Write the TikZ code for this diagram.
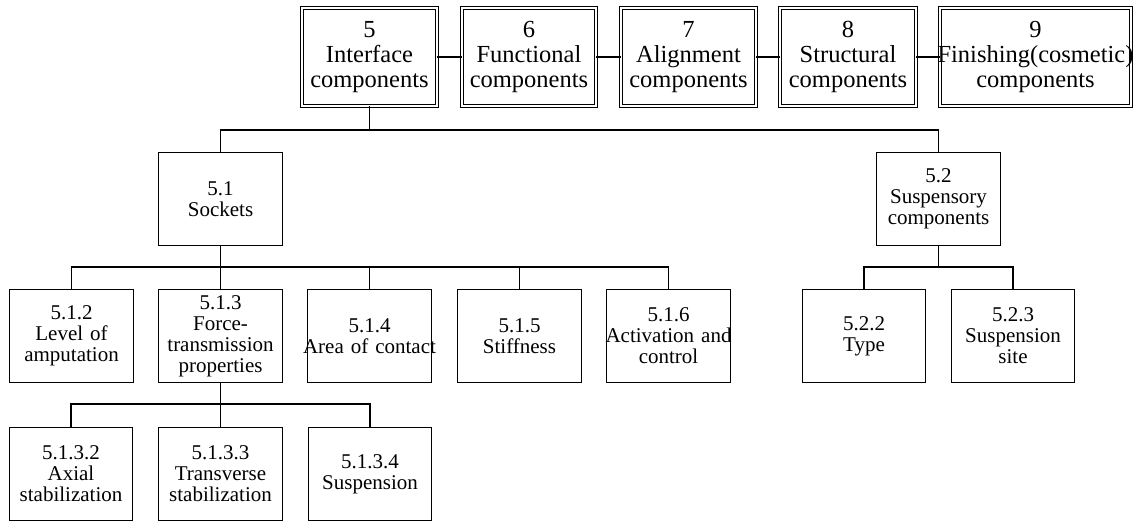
\documentclass[tikz,border=0pt]{standalone}
\usepackage{fontspec}
\setmainfont{Liberation Serif}
\tikzset{
	topbox/.style={draw,double,double distance=2pt,line width=1.2pt,align=center,text width=#1,minimum height=97.5pt,inner sep=0pt,font=\fontsize{24.5}{25}\selectfont},
	box/.style={draw,line width=1.4pt,align=center,text width=123.5pt,minimum height=92.5pt,inner sep=0pt,font=\fontsize{21}{21}\selectfont}
}

\begin{document}
\begin{tikzpicture}[x=1pt,y=-1pt,line width=1.4pt]
	\useasboundingbox (0,0) rectangle (1134,522);

	\node [topbox=134.5pt] (n5) at (369.5,57) {5\\Interface\\components};
	\node [topbox=133.5pt] (n6) at (529,57) {6\\Functional\\components};
	\node [topbox=134.5pt] (n7) at (688.5,57) {7\\Alignment\\components};
	\node [topbox=135.5pt] (n8) at (848,57) {8\\Structural\\components};
	\node [topbox=190.5pt] (n9) at (1035.5,57) {9\\\makebox[0pt]{Finishing(cosmetic)}\\components};

	\node [box] (n51) at (220.5,199) {5.1\\Sockets};
	\node [box] (n52) at (938.5,199) {5.2\\Suspensory\\components};

	\node [box] (n512) at (71.5,336) {5.1.2\\Level of\\amputation};
	\node [box] (n513) at (220.5,336) {5.1.3\\Force-\\transmission\\properties};
	\node [box] (n514) at (369.5,336) {5.1.4\\\makebox[0pt]{Area of contact}};
	\node [box] (n515) at (519.5,336) {5.1.5\\Stiffness};
	\node [box] (n516) at (668.5,336) {5.1.6\\\makebox[0pt]{Activation and}\\control};
	\node [box] (n522) at (864,336) {5.2.2\\Type};
	\node [box] (n523) at (1013,336) {5.2.3\\Suspension\\site};

	\node [box] (n5132) at (71,474) {5.1.3.2\\Axial\\stabilization};
	\node [box] (n5133) at (220.5,474) {5.1.3.3\\Transverse\\stabilization};
	\node [box] (n5134) at (370,474) {5.1.3.4\\Suspension};

	\draw (n5) -- (n6);
	\draw (n6) -- (n7);
	\draw (n7) -- (n8);
	\draw (n8) -- (n9);

	\coordinate (j5) at (369.5,130);
	\draw (n5) -- (j5) -| (n51);
	\draw (j5) -| (n52);

	\coordinate (j51) at (220.5,267);
	\draw (n51) -- (n513);
	\draw (n512) |- (j51) -| (n516);
	\draw (n514.north) -- (n514.north |- j51);
	\draw (n515.north) -- (n515.north |- j51);

	\coordinate (j52) at (938.5,267);
	\draw (n52) -- (j52);
	\draw (n522) |- (j52) -| (n523);

	\coordinate (j513) at (220.5,404);
	\draw (n513) -- (n5133);
	\draw (n5132) |- (j513) -| (n5134);
\end{tikzpicture}
\end{document}
